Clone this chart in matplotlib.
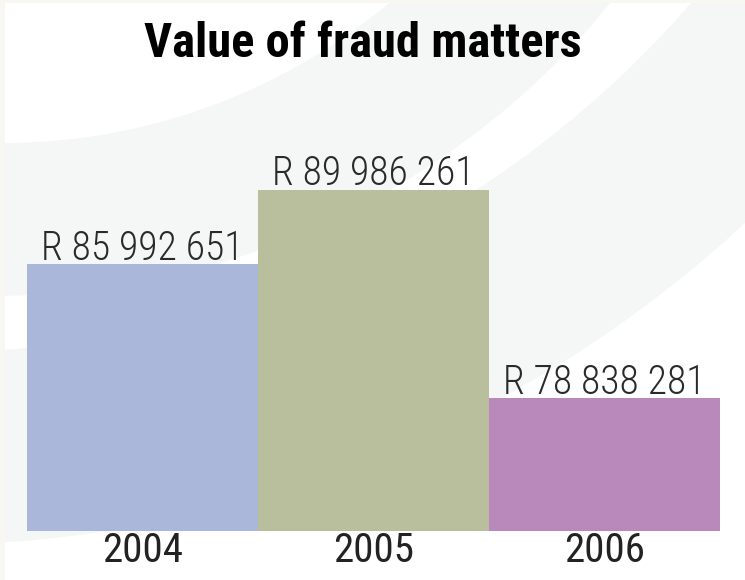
import matplotlib
matplotlib.use("Agg")
import matplotlib.pyplot as plt
from matplotlib.patches import Circle, Rectangle

years = ["2004", "2005", "2006"]
values = [85992651, 89986261, 78838281]
colors = ["#aab7da", "#b9be9d", "#b989bc"]
title = "Value of fraud matters"

W, H = 745, 580
fig = plt.figure(figsize=(W / 100, H / 100), dpi=100)
fig.patch.set_facecolor("white")

# decorative background rings (figure pixel space)
bg = fig.add_axes([0, 0, 1, 1], zorder=-10)
bg.set_xlim(0, W)
bg.set_ylim(H, 0)
bg.axis("off")
grey = "#f5f7f6"
bg.add_patch(Circle((-75, -660), 1205, color=grey, lw=0))
bg.add_patch(Circle((-75, -660), 1013, color="white", lw=0))
bg.add_patch(Circle((-7, -501), 797, color=grey, lw=0))
bg.add_patch(Circle((3, -459), 602, color="white", lw=0))
bg.add_patch(Rectangle((0, 0), 5, H, color="#f8f7f2", lw=0))
bg.add_patch(Rectangle((0, 0), W, 3, color="#f8f7f2", lw=0))

ymin = 71.75e6
ymax = ymin + 381 / 18.72 * 1e6
ax = fig.add_axes([27 / W, (H - 531) / H, 693 / W, (531 - 150) / H])
ax.patch.set_alpha(0)
x = list(range(len(years)))
ax.bar(x, values, width=1.0, color=colors, bottom=0, lw=0)
ax.set_xlim(-0.5, 2.5)
ax.set_ylim(ymin, ymax)
for s in ax.spines.values():
    s.set_visible(False)
ax.set_yticks([])
ax.set_xticks(x)
ax.set_xticklabels(years, fontsize=29.5, family="Roboto Condensed", fontweight=400,
                   color="#222222")
ax.tick_params(axis="x", length=0, pad=0)

for xi, v in zip(x, values):
    lab = "R " + f"{v:,}".replace(",", " ")
    ax.annotate(lab, (xi, v), xytext=(0, 3), textcoords="offset points",
                ha="center", va="baseline", fontsize=28.5, fontweight=300,
                family="Roboto Condensed", color="#2a2a2a")

fig.text(363 / W, 1 - 57 / H, title, ha="center", va="baseline", fontsize=35,
         fontweight="bold", family="Roboto Condensed", color="black")

fig.savefig("out.png", dpi=100)
